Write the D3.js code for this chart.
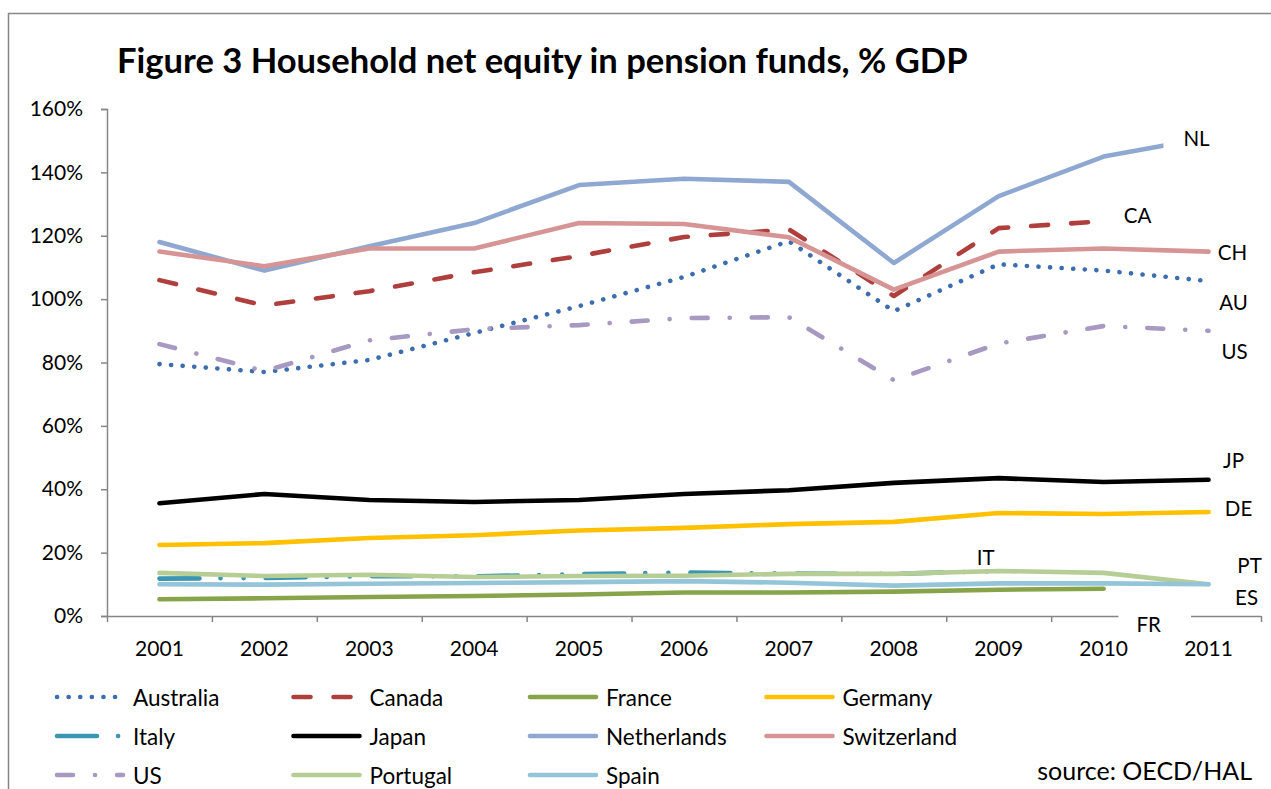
<!DOCTYPE html>
<html>
<head>
<meta charset="utf-8">
<script src="https://cdn.jsdelivr.net/npm/d3@7"></script>
<style>
  html, body { margin: 0; padding: 0; background: #fff; }
  svg { display: block; font-family: Lato, "Open Sans", sans-serif; }
</style>
</head>
<body>
<svg id="chart" width="1271" height="789"></svg>
<script>
// ---------------- DATA ----------------
const years = ["2001","2002","2003","2004","2005","2006","2007","2008","2009","2010","2011"];
const yTicks = [0, 0.2, 0.4, 0.6, 0.8, 1.0, 1.2, 1.4, 1.6];

const australia   = [0.795, 0.770, 0.808, 0.893, 0.978, 1.070, 1.183, 0.962, 1.110, 1.090, 1.057];
const canada      = [1.060, 0.980, 1.025, 1.085, 1.136, 1.196, 1.220, 1.010, 1.224, 1.246];
const france      = [0.053, 0.056, 0.060, 0.063, 0.068, 0.074, 0.074, 0.077, 0.083, 0.086];
const germany     = [0.224, 0.230, 0.246, 0.255, 0.270, 0.278, 0.290, 0.297, 0.325, 0.322, 0.328];
const italy       = [0.118, 0.120, 0.126, 0.125, 0.132, 0.137, 0.134, 0.133, 0.142];
const japan       = [0.356, 0.385, 0.366, 0.360, 0.366, 0.385, 0.397, 0.420, 0.435, 0.423, 0.430];
const netherlands = [1.180, 1.090, 1.167, 1.240, 1.360, 1.380, 1.370, 1.114, 1.325, 1.450, 1.510];
const switzerland = [1.150, 1.104, 1.160, 1.160, 1.240, 1.237, 1.195, 1.030, 1.150, 1.160, 1.150];
const us          = [0.858, 0.773, 0.870, 0.905, 0.918, 0.940, 0.943, 0.744, 0.860, 0.915, 0.900];
const portugal    = [0.136, 0.126, 0.130, 0.123, 0.126, 0.127, 0.133, 0.133, 0.142, 0.136, 0.100];
const spain       = [0.100, 0.099, 0.102, 0.104, 0.107, 0.110, 0.105, 0.096, 0.103, 0.103, 0.100];

const seriesNames = ["Australia","Canada","France","Germany","Italy","Japan","Netherlands","Switzerland","US","Portugal","Spain"];
const seriesValues = [australia, canada, france, germany, italy, japan, netherlands, switzerland, us, portugal, spain];
const shortLabels = ["AU","CA","FR","DE","IT","JP","NL","CH","US","PT","ES"];

// ---------------- STYLES ----------------
const styles = {
  Australia:   { color: "#3C6DB0", dash: "0.1,11.5", cap: "round", w: 4.6 },
  Canada:      { color: "#AE3F3D", dash: "17,23",   cap: "round", w: 4.6 },
  France:      { color: "#87A44B", dash: null,      cap: "round", w: 4.6 },
  Germany:     { color: "#FFC000", dash: null,      cap: "round", w: 4.6 },
  Italy:       { color: "#3A96B2", dash: "40,21,0.1,23,0.1,22", cap: "round", w: 4.6 },
  Japan:       { color: "#000000", dash: null,      cap: "round", w: 4.6 },
  Netherlands: { color: "#8EA8D1", dash: null,      cap: "round", w: 4.6 },
  Switzerland: { color: "#D69594", dash: null,      cap: "round", w: 4.6 },
  US:          { color: "#A899C2", dash: "16,22,0.1,22", cap: "round", w: 4.6 },
  Portugal:    { color: "#B6CD96", dash: null,      cap: "round", w: 4.6 },
  Spain:       { color: "#93C4D8", dash: null,      cap: "round", w: 4.6 }
};

// label layout: offset from the series' last point (px), optional white box padding [left,right]
const labelLayout = {
  NL: { dx: -12, dy: 0,  box: [20, 20] },
  CA: { dx: 34,  dy: -6 },
  CH: { dx: 24,  dy: 0 },
  AU: { dx: 25,  dy: 21 },
  US: { dx: 26,  dy: 20 },
  JP: { dx: 25,  dy: -20 },
  DE: { dx: 30,  dy: -4 },
  IT: { dx: -13, dy: -14 },
  PT: { dx: 41,  dy: -19 },
  ES: { dx: 38,  dy: 13 },
  FR: { dx: 45,  dy: 35, box: [18, 30] }
};

// ---------------- CHART ----------------
const svg = d3.select("#chart");
const axisColor = "#868686";

// outer frame
svg.append("rect").attr("x", 8.5).attr("y", 13.5).attr("width", 1300).attr("height", 900)
  .attr("fill", "none").attr("stroke", axisColor).attr("stroke-width", 1.5);

const plot = { left: 107, right: 1261, top: 109, bottom: 616 };

const x = d3.scaleBand().domain(years).range([plot.left, plot.right]).padding(0);
const cx = d => x(d) + x.bandwidth() / 2;
const y = d3.scaleLinear().domain([0, 1.6]).range([plot.bottom, plot.top]);

// title
const title = svg.append("text")
  .attr("x", 117).attr("y", 73)
  .attr("font-weight", "bold").attr("font-size", 30).attr("fill", "#000")
  .text("Figure 3 Household net equity in pension funds, % GDP");
const tw = title.node().getComputedTextLength();
title.attr("font-size", 30 * 851 / tw);

// y axis
const yAxis = svg.append("g").attr("transform", `translate(${plot.left},0)`)
  .call(d3.axisLeft(y).tickValues(yTicks).tickFormat(d3.format(".0%")).tickSize(6).tickPadding(18));
yAxis.select(".domain").attr("stroke", axisColor).attr("stroke-width", 1.5);
yAxis.selectAll(".tick line").attr("stroke", axisColor).attr("stroke-width", 1.5);
yAxis.selectAll(".tick text").attr("font-size", 21).attr("fill", "#000")
  .attr("font-family", "Lato, sans-serif");

// x axis: ticks at category boundaries
const xIdx = d3.scaleLinear().domain([0, years.length]).range([plot.left, plot.right]);
const xTicksG = svg.append("g").attr("transform", `translate(0,${plot.bottom})`)
  .call(d3.axisBottom(xIdx).tickValues(d3.range(0, years.length + 1)).tickFormat("").tickSize(6).tickSizeOuter(0));
xTicksG.select(".domain").attr("stroke", axisColor).attr("stroke-width", 1.5);
xTicksG.selectAll(".tick line").attr("stroke", axisColor).attr("stroke-width", 1.5);

// lines
const line = d3.line().x((d, i) => cx(years[i])).y(d => y(d));
const linesG = svg.append("g");
seriesNames.forEach((name, k) => {
  const s = styles[name];
  linesG.append("path")
    .datum(seriesValues[k])
    .attr("d", line)
    .attr("fill", "none")
    .attr("stroke", s.color)
    .attr("stroke-width", s.w)
    .attr("stroke-linecap", s.cap)
    .attr("stroke-linejoin", "round")
    .attr("stroke-dasharray", s.dash);
});

// end labels
const labG = svg.append("g");
seriesNames.forEach((name, k) => {
  const vals = seriesValues[k];
  const last = vals.length - 1;
  const lab = shortLabels[k];
  const L = labelLayout[lab];
  const px = cx(years[last]) + L.dx;
  const py = y(vals[last]) + L.dy;
  const g = labG.append("g");
  const t = g.append("text").attr("x", px).attr("y", py)
    .attr("text-anchor", "middle").attr("dominant-baseline", "central")
    .attr("font-size", 20.5).attr("fill", "#000").text(lab);
  if (L.box) {
    const bb = t.node().getBBox();
    g.insert("rect", "text")
      .attr("x", bb.x - L.box[0]).attr("y", bb.y - 3)
      .attr("width", bb.width + L.box[0] + L.box[1]).attr("height", bb.height + 6)
      .attr("fill", "#fff");
  }
});

// x axis category labels (drawn last so they stay visible)
const xLab = svg.append("g").attr("transform", `translate(0,${plot.bottom})`)
  .call(d3.axisBottom(x).tickSize(0).tickPadding(25));
xLab.select(".domain").remove();
xLab.selectAll(".tick text").attr("font-size", 21).attr("fill", "#000")
  .attr("font-family", "Lato, sans-serif");

// legend
const legendCols = 4;
const legG = svg.append("g");
seriesNames.forEach((name, k) => {
  const col = k % legendCols, row = Math.floor(k / legendCols);
  const lx = 57 + col * 236.5;
  const ly = 697 + row * 39;
  const s = styles[name];
  legG.append("line")
    .attr("x1", lx).attr("x2", lx + 66).attr("y1", ly).attr("y2", ly)
    .attr("stroke", s.color).attr("stroke-width", s.w)
    .attr("stroke-linecap", s.cap).attr("stroke-dasharray", s.dash);
  legG.append("text").attr("x", lx + 76).attr("y", ly)
    .attr("dominant-baseline", "central").attr("font-size", 22.5).attr("fill", "#000")
    .text(name);
});

// source note
svg.append("text").attr("x", 1252).attr("y", 770)
  .attr("text-anchor", "end").attr("dominant-baseline", "central")
  .attr("font-size", 25).attr("fill", "#000").text("source: OECD/HAL");
</script>
</body>
</html>
